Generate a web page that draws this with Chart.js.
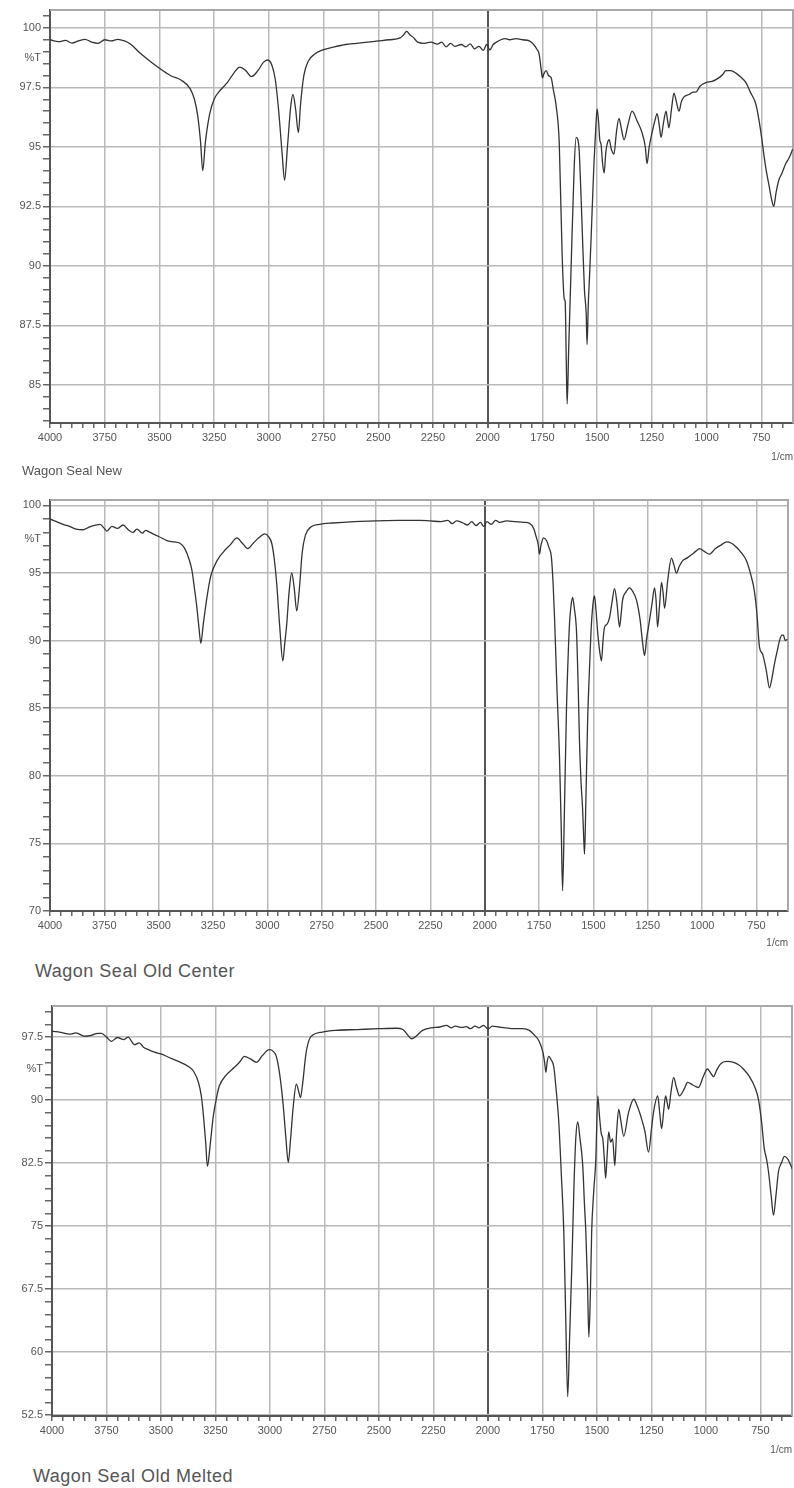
<!DOCTYPE html>
<html>
<head>
<meta charset="utf-8">
<script src="https://cdn.jsdelivr.net/npm/chart.js"></script>
<style>
  body { margin: 0; background: #fff; width: 794px; height: 1488px; position: relative; overflow: hidden; }
  canvas { position: absolute; left: 0; }
  .name { position: absolute; font-family: "Liberation Sans", Arial, sans-serif; color: #555; white-space: nowrap; }
  .unit { position: absolute; font-family: "Liberation Sans", Arial, sans-serif; color: #555; font-size: 10px; text-align: right; width: 40px; }
</style>
</head>
<body>
<canvas id="c1" width="794" height="465" style="top:0px"></canvas>
<canvas id="c2" width="794" height="463" style="top:490px"></canvas>
<canvas id="c3" width="794" height="463" style="top:995px"></canvas>
<div class="unit" style="left:753px; top:451px;">1/cm</div>
<div class="unit" style="left:748px; top:937px;">1/cm</div>
<div class="unit" style="left:752px; top:1444px;">1/cm</div>
<div class="name" style="left:22px; top:463px; font-size:13px;">Wagon Seal New</div>
<div class="name" style="left:35px; top:961px; font-size:18px; letter-spacing:0.5px;">Wagon Seal Old Center</div>
<div class="name" style="left:33px; top:1466px; font-size:18px; letter-spacing:0.5px;">Wagon Seal Old Melted</div>
<script>
// x axis (wavenumber, 1/cm)
const xMajor = [4000, 3750, 3500, 3250, 3000, 2750, 2500, 2250, 2000, 1750, 1500, 1250, 1000, 750];

// Wagon Seal New
const wn1 = [4000, 3960, 3930, 3900, 3870, 3840, 3810, 3780, 3750, 3720, 3690, 3660, 3630, 3590, 3550, 3500, 3450, 3400, 3360, 3340,
  3325, 3312, 3302, 3290, 3270, 3250, 3220, 3190, 3160, 3133, 3105, 3080, 3050, 3025, 3005, 2985, 2970, 2955, 2940, 2928,
  2915, 2900, 2890, 2878, 2865, 2855, 2840, 2820, 2790, 2760, 2700, 2650, 2600, 2550, 2500, 2450, 2400, 2385, 2370, 2355,
  2340, 2320, 2290, 2260, 2230, 2210, 2190, 2170, 2150, 2120, 2100, 2080, 2060, 2040, 2020, 2005, 1990, 1975, 1960, 1940,
  1920, 1900, 1870, 1840, 1810, 1790, 1775, 1765, 1755, 1750, 1742, 1733, 1722, 1710, 1700, 1687, 1673, 1660, 1650, 1646,
  1641, 1637, 1630, 1619, 1605, 1596, 1588, 1582, 1575, 1568, 1558, 1550, 1546, 1540, 1535, 1528, 1520, 1514, 1505, 1500,
  1493, 1488, 1482, 1475, 1468, 1460, 1452, 1445, 1435, 1423, 1412, 1400, 1390, 1377, 1360, 1340, 1318, 1295, 1280, 1272,
  1262, 1249, 1236, 1226, 1216, 1208, 1197, 1185, 1178, 1172, 1160, 1149, 1138, 1126, 1115, 1103, 1080, 1060, 1049, 1030,
  1003, 975, 944, 925, 912, 890, 866, 840, 820, 800, 775, 760, 747, 737, 729, 715, 703, 693, 682, 670,
  655, 638, 625, 615, 607];
const t1 = [99.5, 99.42, 99.47, 99.36, 99.45, 99.52, 99.4, 99.35, 99.5, 99.45, 99.52, 99.45, 99.3, 98.95, 98.65, 98.3, 98.0, 97.8, 97.45, 97.0,
  96.3, 95.2, 94.0, 95.2, 96.4, 97.0, 97.4, 97.7, 98.1, 98.35, 98.2, 97.95, 98.2, 98.55, 98.65, 98.4, 97.8, 96.5, 94.8, 93.6,
  95.0, 96.7, 97.2, 96.6, 95.6, 96.8, 98.0, 98.6, 98.9, 99.05, 99.2, 99.3, 99.35, 99.4, 99.45, 99.5, 99.58, 99.7, 99.85, 99.7,
  99.6, 99.4, 99.35, 99.4, 99.32, 99.4, 99.2, 99.35, 99.22, 99.3, 99.2, 99.33, 99.12, 99.22, 99.05, 99.3, 99.08, 99.3, 99.4, 99.5,
  99.55, 99.5, 99.55, 99.5, 99.45, 99.3, 99.1, 98.9, 98.2, 97.9, 98.1, 98.2, 98.0, 97.9, 97.4, 96.7, 95.15, 90.5, 88.6, 88.5,
  86.0, 84.2, 86.5, 89.9, 94.1, 95.4, 95.3, 94.85, 93.3, 91.5, 89.0, 88.0, 86.7, 88.5, 89.5, 91.06, 93.0, 94.4, 96.0, 96.6,
  96.0, 95.3, 95.1, 94.3, 93.9, 94.8, 95.2, 95.3, 94.9, 94.7, 95.6, 96.2, 95.8, 95.3, 95.9, 96.5, 96.1, 95.6, 95.0, 94.3,
  95.0, 95.6, 96.1, 96.4, 95.9, 95.4, 96.0, 96.5, 96.1, 95.8, 96.6, 97.26, 96.9, 96.5, 96.9, 97.1, 97.2, 97.3, 97.3, 97.55,
  97.7, 97.75, 97.9, 98.05, 98.2, 98.2, 98.1, 97.9, 97.7, 97.3, 96.8, 96.1, 95.3, 94.6, 94.1, 93.4, 92.8, 92.5, 93.1, 93.6,
  93.9, 94.3, 94.5, 94.7, 94.9];

// Wagon Seal Old Center
const wn2 = [4000, 3970, 3940, 3910, 3880, 3848, 3820, 3790, 3770, 3750, 3738, 3715, 3690, 3664, 3640, 3618, 3600, 3575, 3560, 3540,
  3500, 3462, 3430, 3402, 3380, 3360, 3347, 3335, 3324, 3315, 3306, 3295, 3278, 3260, 3232, 3200, 3170, 3140, 3115, 3090,
  3065, 3040, 3012, 2995, 2980, 2968, 2957, 2943, 2929, 2920, 2911, 2900, 2888, 2876, 2865, 2851, 2840, 2825, 2800, 2760,
  2700, 2600, 2500, 2400, 2300, 2250, 2200, 2170, 2150, 2130, 2100, 2080, 2060, 2040, 2020, 2005, 1990, 1970, 1950, 1932,
  1900, 1860, 1820, 1794, 1775, 1762, 1755, 1748, 1742, 1739, 1730, 1716, 1705, 1693, 1685, 1679, 1668, 1656, 1648, 1642,
  1634, 1624, 1616, 1610, 1603, 1596, 1588, 1578, 1570, 1564, 1557, 1550, 1545, 1541, 1535, 1527, 1518, 1509, 1500, 1495,
  1488, 1481, 1472, 1463, 1456, 1449, 1438, 1426, 1415, 1403, 1392, 1380, 1373, 1366, 1350, 1334, 1318, 1302, 1285, 1275,
  1265, 1255, 1242, 1230, 1219, 1212, 1205, 1196, 1187, 1180, 1173, 1158, 1141, 1130, 1118, 1105, 1090, 1070, 1044, 1030,
  1012, 990, 966, 940, 910, 888, 865, 842, 820, 796, 775, 760, 748, 736, 722, 705, 690, 678, 667, 655,
  644, 633, 626, 618, 608];
const t2 = [99.0, 98.8, 98.6, 98.45, 98.25, 98.2, 98.4, 98.55, 98.6, 98.3, 98.1, 98.45, 98.3, 98.55, 98.2, 98.0, 98.25, 97.95, 98.15, 98.0,
  97.7, 97.4, 97.3, 97.2, 96.8, 96.0, 95.2, 93.8, 92.4, 91.0, 89.8, 91.2, 93.2, 94.8, 95.9, 96.6, 97.1, 97.6, 97.2, 96.8,
  97.2, 97.6, 97.9, 97.7, 97.2, 96.0, 94.2, 91.0, 88.5, 89.8, 91.2, 93.6, 95.0, 93.8, 92.2, 94.2, 96.5, 97.8, 98.4, 98.6,
  98.7, 98.8, 98.85, 98.9, 98.9, 98.85, 98.8, 98.9, 98.65, 98.85, 98.7, 98.55, 98.8, 98.5, 98.75, 98.45, 98.8, 98.6, 98.9, 98.74,
  98.85, 98.8, 98.75, 98.67, 98.3, 97.6, 97.2, 96.4, 97.0, 97.2, 97.6, 97.4, 96.9, 96.1, 94.0, 91.7, 86.5, 81.3, 76.0, 71.5,
  77.0, 85.0, 89.0, 91.3, 92.6, 93.2, 92.4, 90.7, 86.5, 82.4, 79.5, 77.6, 75.5, 74.2, 78.0, 83.9, 88.0, 91.3, 93.0, 93.3,
  92.2, 90.7, 89.3, 88.5, 90.0, 91.0, 91.2, 91.7, 92.8, 93.85, 92.8, 91.0, 91.9, 93.0, 93.6, 93.9, 93.6, 93.0, 91.5, 90.0,
  88.9, 90.2, 91.5, 92.8, 93.9, 93.0, 91.0, 92.6, 94.3, 93.6, 92.4, 94.5, 96.1, 95.6, 95.0, 95.5, 95.9, 96.1, 96.4, 96.6,
  96.8, 96.6, 96.4, 96.8, 97.1, 97.3, 97.2, 96.9, 96.5, 95.9, 94.8, 93.7, 92.0, 89.5, 89.0, 87.8, 86.5, 87.3, 88.3, 89.2,
  90.0, 90.4, 90.4, 90.0, 90.1];

// Wagon Seal Old Melted
const wn3 = [4000, 3980, 3950, 3920, 3890, 3850, 3820, 3790, 3773, 3750, 3727, 3700, 3670, 3650, 3635, 3622, 3600, 3580, 3558, 3530,
  3500, 3465, 3420, 3374, 3350, 3328, 3315, 3305, 3295, 3287, 3275, 3260, 3245, 3232, 3200, 3163, 3140, 3117, 3090, 3062,
  3035, 3003, 2985, 2971, 2955, 2939, 2927, 2916, 2905, 2893, 2879, 2868, 2860, 2850, 2835, 2820, 2800, 2760, 2700, 2600,
  2500, 2420, 2390, 2370, 2350, 2330, 2300, 2260, 2220, 2190, 2170, 2150, 2120, 2100, 2080, 2060, 2040, 2020, 2000, 1980,
  1950, 1920, 1880, 1840, 1810, 1789, 1765, 1748, 1740, 1734, 1728, 1721, 1710, 1698, 1688, 1675, 1663, 1652, 1643, 1634,
  1625, 1615, 1605, 1597, 1588, 1578, 1565, 1557, 1551, 1543, 1537, 1530, 1524, 1515, 1505, 1496, 1488, 1480, 1473, 1466,
  1460, 1453, 1446, 1437, 1428, 1418, 1410, 1400, 1390, 1377, 1355, 1331, 1315, 1299, 1280, 1263, 1250, 1240, 1221, 1212,
  1203, 1193, 1185, 1177, 1171, 1160, 1148, 1135, 1121, 1100, 1084, 1060, 1034, 1012, 993, 980, 965, 950, 933, 905,
  873, 850, 828, 800, 775, 759, 745, 732, 722, 713, 700, 690, 678, 667, 652, 640, 625, 603];
const t3 = [98.2, 98.15, 98.0, 97.85, 98.0, 97.6, 97.7, 97.95, 97.95, 97.5, 97.0, 97.45, 97.2, 97.5, 97.0, 96.6, 96.8, 96.3, 96.0, 95.7,
  95.5, 95.1, 94.6, 94.0, 93.4, 92.1, 90.5, 88.1, 85.0, 82.1, 84.5, 88.1, 90.3, 91.7, 93.0, 93.9, 94.5, 95.2, 94.9, 94.5,
  95.3, 96.0, 95.8, 95.2, 93.0, 89.3, 85.5, 82.6, 85.5, 89.3, 91.9, 91.0, 90.3, 92.0, 95.5, 97.2, 97.8, 98.1, 98.3, 98.4,
  98.5, 98.55, 98.4, 97.8, 97.3, 97.6, 98.3, 98.6, 98.7, 98.9, 98.6, 98.8, 98.65, 98.75, 98.5, 98.8, 98.6, 98.9, 98.45, 98.8,
  98.7, 98.6, 98.5, 98.5, 98.3, 97.8, 97.0, 95.7, 94.5, 93.3, 94.6, 95.2, 94.8, 94.0, 91.5, 87.4, 81.0, 74.4, 64.0, 54.7,
  62.0, 70.4, 80.0, 85.4, 87.4, 85.5, 82.2, 77.5, 74.4, 68.0, 61.8, 67.0, 74.4, 79.0, 83.0, 90.5, 88.0, 86.0, 85.4, 83.0,
  80.7, 83.5, 86.2, 85.0, 85.4, 82.2, 86.0, 88.9, 87.5, 85.7, 88.5, 90.1, 89.3, 88.1, 86.3, 83.8, 86.5, 88.6, 90.5, 88.5,
  86.6, 88.9, 90.5, 89.6, 88.9, 91.0, 92.7, 91.5, 90.5, 91.3, 92.1, 91.8, 91.5, 92.8, 93.7, 93.3, 92.8, 93.6, 94.3, 94.6,
  94.5, 94.2, 93.7, 92.8, 91.5, 90.1, 87.5, 84.2, 83.0, 81.5, 78.5, 76.3, 78.8, 81.5, 82.6, 83.3, 83.0, 81.8];

// y tick labels per panel
const yMajor1 = [100, 97.5, 95, 92.5, 90, 87.5, 85];
const yMajor2 = [100, 95, 90, 85, 80, 75, 70];
const yMajor3 = [97.5, 90, 82.5, 75, 67.5, 60, 52.5];

Chart.defaults.font.family = "'Liberation Sans', Arial, sans-serif";
Chart.defaults.color = '#555';

const gridColor = '#b9b9b9';

const framePlugin = {
    id: 'frame',
    beforeDatasetsDraw(chart) {
        const a = chart.chartArea;
        const ctx = chart.ctx;
        ctx.save();
        ctx.strokeStyle = '#a8a8a8';
        ctx.lineWidth = 2;
        ctx.beginPath();
        ctx.moveTo(a.left, a.top);
        ctx.lineTo(a.right, a.top);
        ctx.lineTo(a.right, a.bottom);
        ctx.stroke();
        ctx.restore();
    }
};

function makeTicks(min, max, step, extra) {
    let vals = [];
    let start = Math.ceil(min / step - 1e-9) * step;
    for (let v = start; v <= max + 1e-9; v += step) vals.push(Math.round(v * 100) / 100);
    vals = vals.concat(extra);
    return [...new Set(vals)].sort((a, b) => a - b);
}

function spectrum(id, wn, t, yMin, yMax, yMajor, yStep, pctAt, area, canvasH) {
    const points = wn.map((w, i) => ({ x: w, y: t[i] }));
    const xTicks = makeTicks(605, 4000, 50, xMajor);
    const yTicks = makeTicks(yMin, yMax, yStep, yMajor.concat([pctAt]));

    new Chart(document.getElementById(id).getContext('2d'), {
        type: 'line',
        data: {
            datasets: [{
                data: points,
                borderColor: '#333',
                borderWidth: 1.3,
                pointRadius: 0,
                cubicInterpolationMode: 'monotone',
                fill: false
            }]
        },
        options: {
            responsive: false,
            animation: false,
            events: [],
            layout: { padding: { top: area.top, right: 794 - area.right, left: 0, bottom: 0 } },
            plugins: { legend: { display: false }, tooltip: { enabled: false } },
            scales: {
                x: {
                    type: 'linear',
                    reverse: true,
                    min: 605,
                    max: 4000,
                    afterBuildTicks: s => { s.ticks = xTicks.map(v => ({ value: v })); },
                    afterFit: s => { s.height = canvasH - area.bottom; },
                    ticks: {
                        autoSkip: false,
                        maxRotation: 0,
                        padding: 3,
                        font: { size: 11 },
                        color: '#555',
                        callback: v => xMajor.includes(v) ? String(v) : ''
                    },
                    grid: {
                        color: c => c.tick && c.tick.value === 2000 ? '#555' : (c.tick && xMajor.includes(c.tick.value) ? gridColor : 'transparent'),
                        lineWidth: c => c.tick && c.tick.value === 2000 ? 2 : 1.5,
                        tickColor: '#666',
                        tickLength: 5
                    },
                    border: { display: true, color: '#555', width: 2 }
                },
                y: {
                    type: 'linear',
                    min: yMin,
                    max: yMax,
                    afterBuildTicks: s => { s.ticks = yTicks.map(v => ({ value: v })); },
                    afterFit: s => { s.width = area.left; },
                    ticks: {
                        autoSkip: false,
                        padding: 2,
                        font: { size: 11 },
                        color: '#555',
                        callback: v => v === pctAt ? '%T' : (yMajor.includes(v) ? String(v) : '')
                    },
                    grid: {
                        color: c => c.tick && yMajor.includes(c.tick.value) ? gridColor : 'transparent',
                        lineWidth: 1.5,
                        tickColor: c => c.tick && c.tick.value === pctAt ? 'transparent' : '#666',
                        tickLength: 7
                    },
                    border: { display: true, color: '#555', width: 2 }
                }
            }
        },
        plugins: [framePlugin]
    });
}

spectrum('c1', wn1, t1, 83.4, 100.75, yMajor1, 0.5, 98.75, { left: 50, top: 10, right: 793, bottom: 423 }, 465);
spectrum('c2', wn2, t2, 70, 100.4, yMajor2, 1, 97.5, { left: 50, top: 10, right: 788, bottom: 421 }, 463);
spectrum('c3', wn3, t3, 52.4, 101.2, yMajor3, 1.5, 93.75, { left: 52, top: 11, right: 792, bottom: 421 }, 463);
</script>
</body>
</html>
